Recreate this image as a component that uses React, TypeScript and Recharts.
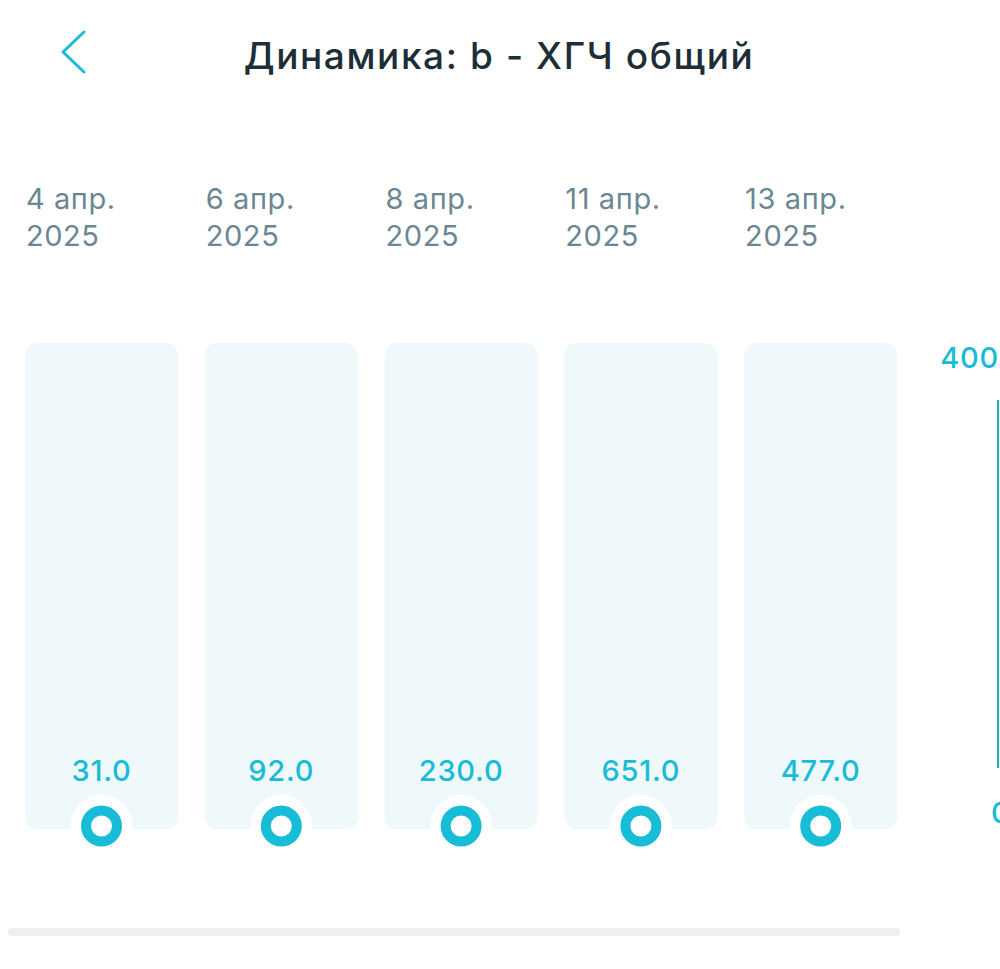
import { BarChart, Bar, XAxis, YAxis, LabelList, LineChart, Line } from 'recharts'

const dates = ['4 апр.', '6 апр.', '8 апр.', '11 апр.', '13 апр.']
const years = ['2025', '2025', '2025', '2025', '2025']
const values = [31, 92, 230, 651, 477]
const rangeTicks = [0, 400]

const TEAL = '#17bcd6'
const FONT = 'Inter, "Noto Sans", sans-serif'

const data = dates.map((d, i) => ({ date: d, year: years[i], value: values[i] }))

function DateTick(props: any) {
  const { x, y, payload, index } = props
  const left = x - 76
  return (
    <g>
      <text x={left} y={y - 137} fill="#6b8794" fontSize={29} fontFamily={FONT} dominantBaseline="central" letterSpacing={0.6}>
        {payload.value}
      </text>
      <text x={left} y={y - 100} fill="#6b8794" fontSize={29} fontFamily={FONT} dominantBaseline="central" letterSpacing={0.6}>
        {years[index]}
      </text>
    </g>
  )
}

function DotShape(props: any) {
  const { x, y, width, height } = props
  const cx = x + width / 2
  const cy = y + height - 3
  return (
    <g>
      <circle cx={cx} cy={cy} r={31} fill="#ffffff" />
      <circle cx={cx} cy={cy} r={15.5} fill="#ffffff" stroke={TEAL} strokeWidth={10} />
    </g>
  )
}

function ValueLabel(props: any) {
  const { x, y, width, height, value } = props
  return (
    <text x={x + width / 2} y={y + height - 59} textAnchor="middle" dominantBaseline="central"
      fill={TEAL} fontSize={29} fontWeight={500} letterSpacing={0.8} fontFamily={FONT}>
      {Number(value).toFixed(1)}
    </text>
  )
}

function RangeTick(props: any) {
  const { x, y, payload } = props
  const top = payload.value === 400
  return (
    <text x={top ? x - 7 : x - 15} y={top ? y - 43 : y + 44} textAnchor={top ? 'end' : 'start'}
      dominantBaseline="central" fill={TEAL} fontSize={29} fontWeight={500} letterSpacing={0.8} fontFamily={FONT}>
      {payload.value}
    </text>
  )
}

export default function App() {
  return (
    <div style={{ position: 'absolute', left: 0, top: 0, width: 1000, height: 969, background: '#fff', overflow: 'hidden' }}>
      <svg width={1000} height={110} style={{ position: 'absolute', left: 0, top: 0 }}>
        <polyline points="84,32 63,52 84,72" fill="none" stroke={TEAL} strokeWidth={3} strokeLinecap="round" strokeLinejoin="round" />
        <text x={499} y={55} textAnchor="middle" dominantBaseline="central" fill="#1d2e37"
          fontSize={37} fontWeight={500} letterSpacing={1.6} fontFamily={FONT}>
          Динамика: b - ХГЧ общий
        </text>
      </svg>

      <div style={{ position: 'absolute', left: 0, top: 0 }}>
        <BarChart width={1000} height={969} data={data}
          margin={{ top: 143, right: 89, left: 12, bottom: 140 }}>
          <XAxis dataKey="date" orientation="top" height={200} axisLine={false} tickLine={false}
            interval={0} tick={<DateTick />} />
          <YAxis hide domain={[0, 700]} />
          <Bar dataKey="value" barSize={153} isAnimationActive={false}
            background={{ fill: '#eff8fa', radius: 12 }} shape={<DotShape />}>
            <LabelList dataKey="value" content={<ValueLabel />} />
          </Bar>
        </BarChart>
      </div>

      <div style={{ position: 'absolute', left: 900, top: 0 }}>
        <LineChart width={100} height={969} data={data}
          margin={{ top: 400, right: 1, left: 0, bottom: 201 }}>
          <XAxis dataKey="date" hide />
          <YAxis orientation="right" width={1} domain={[0, 400]} ticks={rangeTicks} allowDataOverflow
            axisLine={{ stroke: '#22a9bc', strokeWidth: 2 }} tickLine={false} tick={<RangeTick />} />
          <Line dataKey="value" stroke="none" dot={false} isAnimationActive={false} />
        </LineChart>
      </div>

      <div style={{ position: 'absolute', left: 8, top: 928, width: 892, height: 8, borderRadius: 4, background: '#efefef' }} />
    </div>
  )
}
